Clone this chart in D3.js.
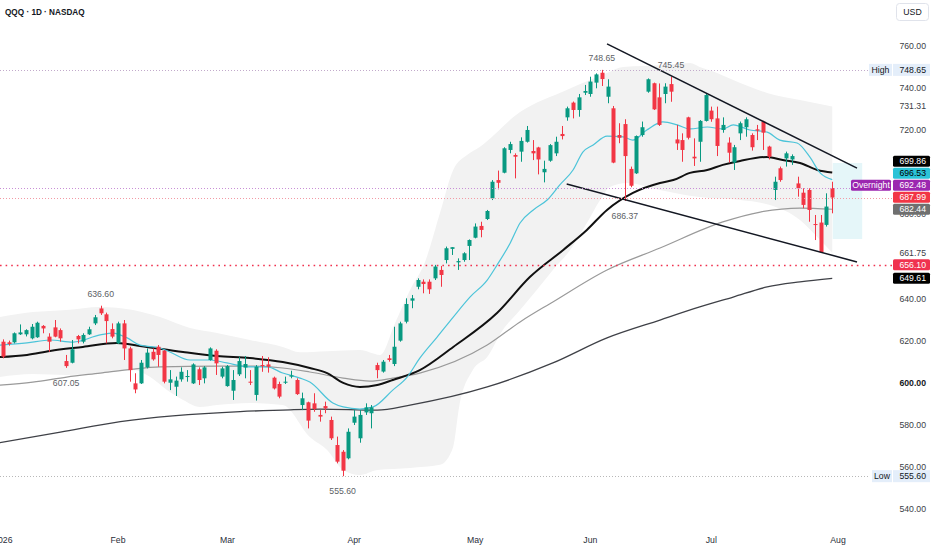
<!DOCTYPE html>
<html>
<head>
<meta charset="utf-8">
<script src="https://cdn.jsdelivr.net/npm/d3@7"></script>
<style>
html, body { margin:0; padding:0; background:#fff; }
svg { display:block; font-family:"Liberation Sans", Arial, sans-serif; }
</style>
</head>
<body>
<div id="chart" width="932" height="550"></div>
<script>
// month labels (index = bar number of the first session of the month)
const month_labels = ["2026", "Feb", "Mar", "Apr", "May", "Jun", "Jul", "Aug"];
const month_idx = [0, 20, 39, 61, 82, 102, 123, 145];

// daily OHLC, Jan 2 .. Jul 31
const candle_open = [
    619.5,619.2,619.2,623.0,623.0,621.1,621.6,627.0,621.9,626.3,
    625.0,610.3,609.5,622.2,619.5,623.0,628.2,635.3,632.5,625.5,
    618.7,628.2,616.3,599.7,599.7,607.3,614.7,617.1,615.2,600.0,
    598.1,601.6,602.7,599.7,606.4,602.1,610.8,615.2,602.9,598.4,
    596.2,604.0,607.2,600.5,594.2,608.4,608.7,602.4,599.4,600.0,
    602.9,601.3,589.4,590.7,590.2,584.7,588.9,582.3,570.4,567.2,
    564.1,581.0,573.6,585.9,585.5,608.4,605.3,611.6,608.9,620.0,
    629.0,639.0,645.6,648.0,648.0,649.6,653.6,658.3,663.6,657.2,
    658.3,665.0,668.9,674.5,677.8,687.6,696.3,699.8,710.6,708.2,
    709.8,714.5,710.1,711.8,700.0,705.5,709.0,718.2,726.1,733.1,
    729.6,737.8,737.2,742.6,747.3,735.9,730.4,717.7,722.9,701.6,
    699.5,717.7,738.3,742.3,735.6,737.2,741.9,715.6,715.3,726.1,
    707.4,714.5,724.4,729.3,725.6,720.1,714.1,704.6,718.5,721.4,
    717.7,720.4,724.1,712.2,691.6,701.9,706.6,706.1,694.7,690.3,
    691.6,675.4,676.1,675.0,692.5
];
const candle_high = [
    620.6,620.0,623.9,627.7,625.4,627.9,629.0,627.4,623.5,629.8,
    625.8,613.2,620.3,622.7,623.5,626.6,632.2,636.6,633.3,628.2,
    629.0,629.8,617.1,604.5,610.8,616.3,616.3,617.9,615.5,606.0,
    602.9,607.3,606.0,609.2,607.3,607.9,616.8,615.9,607.6,608.4,
    606.0,612.4,612.7,606.0,608.4,612.7,612.1,602.9,600.5,602.9,
    605.7,602.1,595.3,591.0,595.0,587.0,591.0,583.9,574.4,568.0,
    578.3,587.0,587.0,590.2,589.4,609.5,610.8,613.2,626.6,629.0,
    640.1,641.7,649.6,649.1,649.1,656.0,655.5,664.7,664.4,659.1,
    662.0,668.1,675.7,676.5,682.1,696.3,700.8,711.9,714.5,709.0,
    716.6,722.0,715.3,712.1,705.5,713.4,716.9,722.0,731.2,733.6,
    737.2,741.5,745.4,747.0,748.65,744.2,731.5,723.3,725.2,702.7,
    717.5,724.1,744.6,742.6,742.2,742.3,745.45,722.5,718.5,726.4,
    716.1,724.8,737.2,731.2,731.2,726.1,716.6,713.0,724.1,726.1,
    718.5,722.5,724.5,712.6,697.9,702.7,709.8,708.5,697.9,692.4,
    692.4,679.7,679.7,690.0,695.5
];
const candle_low = [
    611.6,617.6,618.7,622.7,622.0,620.6,621.3,623.5,614.7,621.6,
    619.5,607.05,609.2,618.7,618.7,622.7,627.4,632.2,618.7,621.1,
    618.4,610.8,600.5,595.0,599.4,606.8,610.5,607.6,599.7,596.5,
    593.7,600.5,600.5,599.4,598.9,599.7,610.5,603.7,602.1,598.1,
    591.8,603.2,602.1,598.9,591.5,605.2,604.8,596.8,592.6,599.4,
    602.1,594.2,587.0,578.3,586.2,581.5,585.5,572.8,561.7,555.6,
    563.6,579.9,571.5,584.7,578.3,602.1,604.8,610.0,607.9,619.5,
    628.2,635.4,644.4,642.5,642.2,648.8,645.6,656.7,660.7,653.6,
    657.5,658.3,668.6,669.1,677.3,686.8,691.9,699.5,709.0,697.1,
    705.0,714.1,705.8,699.0,695.2,705.0,707.7,715.6,724.5,725.6,
    726.4,736.7,735.9,739.9,741.0,732.8,704.3,713.8,686.37,692.9,
    699.2,716.9,737.8,729.6,722.0,732.8,733.5,710.6,705.0,715.6,
    703.0,705.0,724.1,724.0,707.7,718.8,704.6,701.1,715.3,716.9,
    710.3,715.3,710.6,706.1,686.8,695.5,702.7,703.5,688.4,682.9,
    676.5,667.8,661.75,674.2,680.5
];
const candle_close = [
    612.4,618.4,623.5,623.9,625.0,626.6,628.5,625.8,619.5,621.9,
    621.1,607.9,615.9,620.6,622.7,625.4,631.1,633.0,629.3,621.9,
    628.2,616.3,606.0,596.8,609.5,614.3,611.1,613.2,600.5,601.6,
    601.0,605.2,603.2,608.7,601.3,607.3,616.3,609.2,606.8,607.9,
    601.3,610.3,608.9,600.0,607.6,607.9,607.6,597.3,593.4,600.5,
    603.5,594.6,592.6,582.0,587.5,583.9,587.8,573.6,562.5,558.2,
    576.7,583.9,584.7,588.3,588.3,606.0,610.0,610.8,617.1,628.2,
    637.4,640.1,648.8,646.9,644.4,655.2,651.2,663.9,664.4,657.8,
    661.5,667.8,674.2,672.6,681.6,695.5,695.0,711.4,713.4,707.4,
    714.9,720.1,709.0,706.1,701.6,712.9,714.5,717.2,730.4,729.6,
    735.6,738.6,743.1,746.5,744.3,740.7,704.6,716.4,707.7,693.6,
    717.2,721.4,744.2,729.9,722.5,740.7,738.3,713.7,710.6,716.4,
    706.6,724.4,736.7,725.2,712.5,722.5,709.3,711.9,723.3,725.2,
    711.9,719.8,718.8,707.4,695.5,696.3,709.0,707.7,692.4,684.5,
    682.1,675.0,662.0,683.7,687.99
];

// moving averages: [bar index, price]
const ma_cyan = [
    [-0.5,617.9],[4.2,618.9],[8.2,620.3],[12.2,619.3],[16.9,622.7],[19.1,623.6],[21.6,621.3],
    [23.8,617.9],[27.3,616.5],[29.0,614.6],[32.5,610.8],[36.0,610.8],[38.9,609.4],[42.9,607.5],
    [45.9,607.5],[48.6,604.6],[51.6,602.2],[53.3,600.3],[57.3,590.4],[59.1,588.5],[62.0,587.5],
    [64.3,588.5],[67.7,596.5],[70.2,602.7],[72.4,611.7],[75.4,621.7],[78.2,631.2],[81.1,640.7],
    [84.1,648.8],[85.8,655.9],[88.1,666.4],[89.8,675.9],[92.1,682.1],[94.5,686.8],[96.7,694.0],
    [99.0,701.1],[100.7,709.6],[102.5,713.0],[104.9,717.2],[107.7,716.8],[109.4,715.3],[111.8,720.1],
    [114.6,723.9],[117.1,722.5],[119.3,720.6],[122.3,721.5],[125.0,720.6],[126.8,722.5],[129.7,720.1],
    [132.7,719.1],[134.9,715.3],[137.9,713.9],[140.1,707.3],[141.9,699.7],[144.0,696.53]
];
const ma_black = [
    [-0.5,612.2],[4.2,613.2],[8.2,615.1],[13.9,617.0],[19.8,618.9],[23.8,617.5],[31.3,614.6],
    [37.2,612.7],[42.9,611.7],[48.6,609.8],[53.3,607.0],[56.3,604.6],[59.1,599.9],[62.0,598.0],
    [65.0,598.9],[67.7,601.3],[72.4,606.0],[78.2,617.0],[85.8,633.1],[91.5,650.2],[97.3,663.1],
    [101.4,672.6],[104.9,682.1],[109.4,690.2],[114.1,694.9],[116.4,696.3],[119.3,699.7],[122.3,701.1],
    [125.0,703.5],[128.0,705.4],[132.7,707.3],[135.4,705.8],[138.4,704.4],[141.4,701.1],[144.0,699.86]
];
const ma_gray = [
    [-0.5,598.9],[5.2,600.3],[11.1,602.7],[16.9,604.6],[22.6,606.5],[27.3,607.5],[37.2,607.9],
    [42.9,607.9],[48.6,607.0],[53.3,605.1],[59.1,602.2],[63.7,600.8],[67.7,602.2],[72.4,604.6],
    [84.1,617.9],[89.8,628.9],[95.5,638.4],[104.9,653.6],[114.1,664.0],[125.0,676.4],[131.5,681.1],
    [138.4,683.0],[144.0,682.44]
];
const ma_dark = [
    [-0.5,571.5],[10.0,576.5],[20.4,581.5],[41.2,586.3],[48.6,587.0],[55.1,587.5],[65.0,587.0],
    [70.7,589.4],[84.1,598.0],[95.5,609.4],[104.9,621.3],[114.1,629.8],[121.0,636.0],[126.8,640.7],
    [132.7,645.5],[138.4,647.9],[144.0,649.61]
];

// bollinger band edges
const band_upper = [
    [-0.5,631.2],[5.2,633.6],[11.1,634.6],[16.9,636.0],[22.6,634.6],[27.3,631.2],[32.5,626.0],
    [37.2,623.6],[42.9,620.3],[48.6,617.0],[51.6,614.5],[56.3,615.0],[62.0,615.5],[65.5,613.2],
    [68.1,628.4],[70.7,644.1],[73.3,657.4],[75.9,680.6],[78.2,701.1],[80.6,708.2],[82.8,712.0],
    [89.8,728.6],[97.9,739.1],[104.9,747.2],[107.7,750.0],[115.3,751.0],[119.3,751.9],[121.0,750.0],
    [124.0,747.2],[126.8,743.8],[132.7,737.7],[138.4,734.3],[144.0,731.31]
];
const band_lower = [
    [-0.5,602.7],[5.2,604.1],[11.1,603.7],[16.9,604.6],[22.6,606.0],[25.6,602.7],[28.5,596.5],
    [31.3,591.8],[34.2,588.5],[37.2,589.4],[42.9,590.4],[48.6,589.4],[53.3,574.2],[56.3,568.0],
    [59.1,558.5],[62.0,556.1],[65.0,558.5],[70.7,559.5],[75.9,561.0],[78.2,569.5],[79.2,588.0],
    [81.6,606.0],[84.1,612.2],[86.8,625.0],[89.8,634.6],[92.7,644.1],[95.5,653.6],[98.5,663.1],
    [101.4,675.9],[103.7,686.8],[105.4,693.0],[108.4,694.9],[114.1,691.6],[121.0,688.2],[128.0,686.8],
    [133.2,684.4],[138.4,677.3],[141.9,667.8],[144.0,661.75]
];

// wedge trend lines: [bar index, price]
const trend_upper = [[104.9, 761.0], [148.3, 702.0]];
const trend_lower = [[97.9, 694.4], [148.3, 657.4]];

// price axis
const price_ticks = [760, 740, 720, 680, 640, 620, 600, 580, 560, 540];
const band_tags = [731.31, 661.75];
const tag_values = [699.86, 696.53, 692.48, 687.99, 682.44, 656.10, 649.61];
const day_high = 748.65;
const day_low = 555.60;

// pivot labels on the chart
const pivot_idx = [17, 11, 59, 104, 116, 108];
const pivot_value = [636.60, 607.05, 555.60, 748.65, 745.45, 686.37];
const pivot_side = ["high", "low", "low", "high", "high", "low"];

function draw_chart(id){
    const width = 932;
    const height = 550;
    const plot_right = 866;
    const bar_w = 4;
    const up_col = "#089981";
    const down_col = "#f23645";
    const fs = 8.7;

    const x = d3.scaleLinear().domain([0, 145]).range([2.8, 2.8 + 145 * 5.76]);
    const y = d3.scaleLinear().domain([540, 760]).range([509, 46]);

    const svg = d3.select(id).append("svg")
        .attr("width", width)
        .attr("height", height)
    ;
    svg.append("defs").append("clipPath")
        .attr("id", "plot_clip")
        .append("rect")
        .attr("x", 0).attr("y", 0)
        .attr("width", plot_right).attr("height", 530)
    ;
    const g = svg.append("g").attr("clip-path", "url(#plot_clip)");

    const line = d3.line()
        .x(function(d){ return x(d[0]); })
        .y(function(d){ return y(d[1]); })
        .curve(d3.curveMonotoneX)
    ;

    // band fill
    let band_path = line(band_upper) + "L" + line(band_lower.slice().reverse()).substring(1) + "Z";
    g.append("path")
        .attr("d", band_path)
        .attr("fill", "#f2f2f2")
    ;

    // pale box right of the last bar
    g.append("rect")
        .attr("x", x(144.1))
        .attr("y", y(704.4))
        .attr("width", x(149.2) - x(144.1))
        .attr("height", y(668.3) - y(704.4))
        .attr("fill", "#e5f6f9")
    ;

    // horizontal dotted levels
    const levels = [
        {v: day_high, x2: 868, col: "#c2aacb", w: 1, dash: "1,2"},
        {v: 692.48, x2: 851, col: "#c98fd6", w: 1, dash: "1,2"},
        {v: 687.99, x2: 893, col: "#f39aa5", w: 1, dash: "1,2"},
        {v: 656.10, x2: 893, col: "#f0324f", w: 1.6, dash: "1.6,4"},
        {v: day_low, x2: 870, col: "#b8b8b8", w: 1, dash: "1,2"}
    ];
    svg.selectAll("line.level")
        .data(levels)
        .enter()
        .append("line")
        .attr("class", "level")
        .attr("x1", 0)
        .attr("x2", function(d){ return d.x2; })
        .attr("y1", function(d){ return Math.round(y(d.v)) + 0.5; })
        .attr("y2", function(d){ return Math.round(y(d.v)) + 0.5; })
        .attr("stroke", function(d){ return d.col; })
        .attr("stroke-width", function(d){ return d.w; })
        .attr("stroke-dasharray", function(d){ return d.dash; })
    ;

    // moving averages
    const mas = [
        {pts: ma_dark, col: "#3f4147", w: 1.3},
        {pts: ma_gray, col: "#9a9a9a", w: 1.2},
        {pts: ma_black, col: "#111111", w: 2},
        {pts: ma_cyan, col: "#4cc4d9", w: 1.2}
    ];
    g.selectAll("path.ma")
        .data(mas)
        .enter()
        .append("path")
        .attr("class", "ma")
        .attr("d", function(d){ return line(d.pts); })
        .attr("fill", "none")
        .attr("stroke", function(d){ return d.col; })
        .attr("stroke-width", function(d){ return d.w; })
    ;

    // candles
    const candles = d3.range(candle_open.length).map(function(i){
        return {i: i, o: candle_open[i], h: candle_high[i], l: candle_low[i], c: candle_close[i]};
    });
    function col(d){ return d.c >= d.o ? up_col : down_col; }

    g.selectAll("line.wick")
        .data(candles)
        .enter()
        .append("line")
        .attr("class", "wick")
        .attr("x1", function(d){ return Math.round(x(d.i)) + 0.5; })
        .attr("x2", function(d){ return Math.round(x(d.i)) + 0.5; })
        .attr("y1", function(d){ return y(d.h); })
        .attr("y2", function(d){ return y(d.l); })
        .attr("stroke", col)
        .attr("stroke-width", 1)
    ;
    g.selectAll("rect.body")
        .data(candles)
        .enter()
        .append("rect")
        .attr("class", "body")
        .attr("x", function(d){ return Math.round(x(d.i)) + 0.5 - bar_w / 2; })
        .attr("y", function(d){ return y(Math.max(d.o, d.c)); })
        .attr("width", bar_w)
        .attr("height", function(d){ return Math.max(1, Math.abs(y(d.o) - y(d.c))); })
        .attr("fill", col)
    ;

    // wedge lines
    g.selectAll("path.trend")
        .data([trend_upper, trend_lower])
        .enter()
        .append("path")
        .attr("class", "trend")
        .attr("d", d3.line()
            .x(function(d){ return x(d[0]); })
            .y(function(d){ return y(d[1]); }))
        .attr("fill", "none")
        .attr("stroke", "#131722")
        .attr("stroke-width", 1.5)
    ;

    // pivot labels
    svg.selectAll("text.pivot")
        .data(pivot_idx)
        .enter()
        .append("text")
        .attr("class", "pivot")
        .attr("x", function(d){ return x(d); })
        .attr("y", function(d, i){
            return pivot_side[i] == "high" ? y(pivot_value[i]) - 9 : y(pivot_value[i]) + 18;
        })
        .attr("text-anchor", "middle")
        .attr("font-size", fs)
        .attr("fill", "#5d5f66")
        .text(function(d, i){ return pivot_value[i].toFixed(2); })
    ;

    // month labels
    svg.selectAll("text.month")
        .data(month_labels)
        .enter()
        .append("text")
        .attr("class", "month")
        .attr("x", function(d, i){ return x(month_idx[i]); })
        .attr("y", 543)
        .attr("text-anchor", "middle")
        .attr("font-size", fs)
        .attr("fill", "#2a2e39")
        .text(function(d){ return d; })
    ;

    // price ticks
    svg.selectAll("text.tick")
        .data(price_ticks.concat(band_tags))
        .enter()
        .append("text")
        .attr("class", "tick")
        .attr("x", 926)
        .attr("y", function(d){ return y(d) + 3; })
        .attr("text-anchor", "end")
        .attr("font-size", fs)
        .attr("font-weight", function(d){ return d == 600 ? "bold" : "normal"; })
        .attr("fill", function(d){ return d == 600 ? "#131722" : "#3b3e46"; })
        .text(function(d){ return d.toFixed(2); })
    ;

    // coloured value tags, pushed apart from the bottom up
    const tag_fill = ["#000000", "#2bc3d7", "#9c27b0", "#f23645", "#6f6f6f", "#f0324f", "#000000"];
    const tag_text = ["#ffffff", "#000000", "#ffffff", "#ffffff", "#ffffff", "#ffffff", "#ffffff"];
    let tag_y = tag_values.map(function(v){ return y(v); });
    for( let i=tag_y.length-2; i>=0; i-- ){
        tag_y[i] = Math.min(tag_y[i], tag_y[i+1] - 12);
    }
    let tags = svg.selectAll("g.tag")
        .data(tag_values)
        .enter()
        .append("g")
        .attr("class", "tag")
        .attr("transform", function(d, i){ return "translate(893," + tag_y[i] + ")"; })
    ;
    tags.append("rect")
        .attr("x", 0).attr("y", -5.5)
        .attr("width", 37).attr("height", 11)
        .attr("rx", 1.5)
        .attr("fill", function(d, i){ return tag_fill[i]; })
    ;
    tags.append("text")
        .attr("x", 33).attr("y", 3)
        .attr("text-anchor", "end")
        .attr("font-size", fs)
        .attr("fill", function(d, i){ return tag_text[i]; })
        .text(function(d){ return d.toFixed(2); })
    ;

    // "Overnight" tag next to its price
    let ov_y = tag_y[tag_values.indexOf(692.48)];
    svg.append("rect")
        .attr("x", 851).attr("y", ov_y - 5.5)
        .attr("width", 40).attr("height", 11)
        .attr("rx", 1.5)
        .attr("fill", "#9c27b0")
    ;
    svg.append("text")
        .attr("x", 871).attr("y", ov_y + 3)
        .attr("text-anchor", "middle")
        .attr("font-size", fs)
        .attr("fill", "#ffffff")
        .text("Overnight")
    ;

    // High / Low tags
    const hl = [{name: "High", v: day_high}, {name: "Low", v: day_low}];
    let hl_g = svg.selectAll("g.hl")
        .data(hl)
        .enter()
        .append("g")
        .attr("class", "hl")
        .attr("transform", function(d){ return "translate(0," + y(d.v) + ")"; })
    ;
    hl_g.append("rect")
        .attr("x", function(d){ return d.name == "High" ? 869 : 872; })
        .attr("y", -6)
        .attr("width", function(d){ return d.name == "High" ? 23 : 20; })
        .attr("height", 12)
        .attr("fill", "#e4eefa")
    ;
    hl_g.append("text")
        .attr("x", function(d){ return d.name == "High" ? 880.5 : 882; })
        .attr("y", 3)
        .attr("text-anchor", "middle")
        .attr("font-size", fs)
        .attr("fill", "#131722")
        .text(function(d){ return d.name; })
    ;
    hl_g.append("rect")
        .attr("x", 893).attr("y", -6)
        .attr("width", 37).attr("height", 12)
        .attr("fill", "#e4eefa")
    ;
    hl_g.append("text")
        .attr("x", 926).attr("y", 3)
        .attr("text-anchor", "end")
        .attr("font-size", fs)
        .attr("fill", "#131722")
        .text(function(d){ return d.v.toFixed(2); })
    ;

    // currency box
    svg.append("rect")
        .attr("x", 896.5).attr("y", 3.5)
        .attr("width", 32).attr("height", 17)
        .attr("rx", 3)
        .attr("fill", "#ffffff")
        .attr("stroke", "#e0e3eb")
    ;
    svg.append("text")
        .attr("x", 912.5).attr("y", 15)
        .attr("text-anchor", "middle")
        .attr("font-size", fs)
        .attr("fill", "#131722")
        .text("USD")
    ;

    // title
    svg.append("text")
        .attr("x", 5).attr("y", 14.5)
        .attr("font-size", 8.2)
        .attr("font-weight", "bold")
        .attr("fill", "#131722")
        .text("QQQ · 1D · NASDAQ")
    ;
}

draw_chart("#chart");
</script>
</body>
</html>
